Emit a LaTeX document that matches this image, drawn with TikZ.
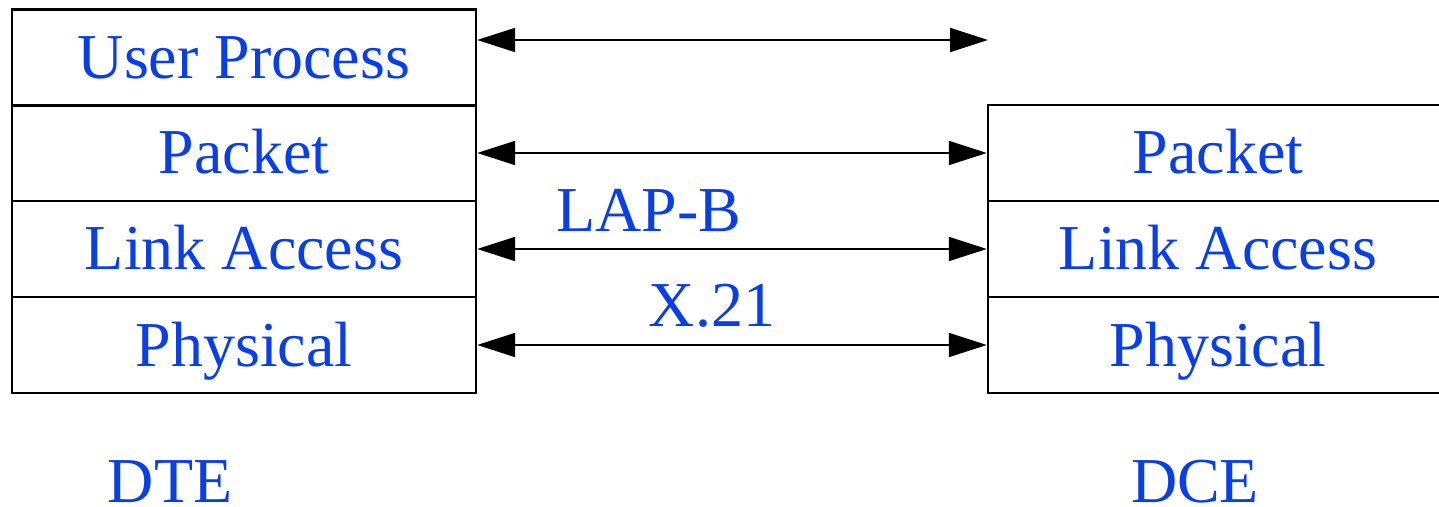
\documentclass[tikz,border=0pt]{standalone}
\usepackage{fontspec}
\setmainfont{Liberation Serif}
\usetikzlibrary{arrows.meta,positioning}
\definecolor{lblue}{RGB}{10,62,230}
\begin{document}
\begin{tikzpicture}[x=0.5pt,y=-0.5pt,
  layer/.style={draw=black,line width=1.2pt,rectangle,minimum height=48pt,
    text=lblue,font=\fontsize{32}{36}\selectfont,text height=21pt,text depth=0pt,inner sep=0pt},
  lbox/.style={layer,minimum width=232pt},
  rbox/.style={layer,minimum width=230pt},
  lab/.style={text=lblue,font=\fontsize{32}{36}\selectfont,anchor=base,inner sep=0pt},
  link/.style={line width=1pt,{Triangle[length=19pt,width=12pt]}-{Triangle[length=19pt,width=12pt]}}]
\useasboundingbox (0,0) rectangle (1439,507);
% left stack
\node[lbox] (up) at (244,57.5) {User Process};
\node[lbox] (lp) at (244,153) {Packet};
\node[lbox] (ll) at (244,249) {Link Access};
\node[lbox] (lph) at (244,345) {Physical};
% right stack
\node[rbox] (rp) at (1218,153) {Packet};
\node[rbox] (rl) at (1218,249) {Link Access};
\node[rbox] (rph) at (1218,345) {Physical};
% arrows
\coordinate (uend) at (988,40);
\draw[link] (up.east |- uend) -- (uend);
\draw[link] (lp.east) -- (rp.west);
\draw[link] (ll.east) -- (rl.west);
\draw[link] (lph.east) -- (rph.west);
% labels
\node[lab] (lapb) at (649,232) {LAP-B};
\node[lab] (x21) at (712,327) {X.21};
\node[lab] (dte) at (170,502) {DTE};
\node[lab] (dce) at (1195,502) {DCE};
\end{tikzpicture}
\end{document}
